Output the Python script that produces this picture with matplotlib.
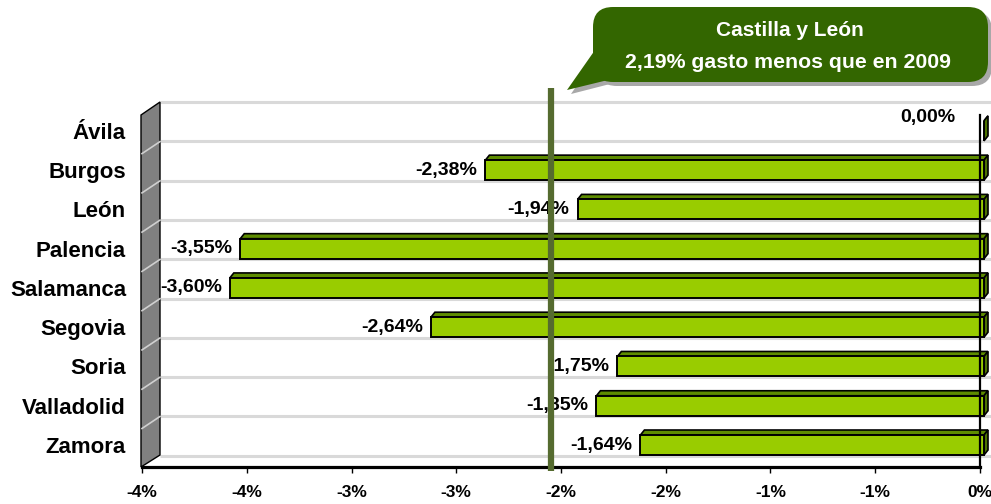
import matplotlib
matplotlib.use("Agg")
import matplotlib.pyplot as plt
from matplotlib.patches import Polygon, Rectangle, FancyBboxPatch

plt.rcParams['font.family'] = ['Liberation Sans', 'DejaVu Sans']

# ---------------- data ----------------
provinces = ["Ávila", "Burgos", "León", "Palencia", "Salamanca",
             "Segovia", "Soria", "Valladolid", "Zamora"]
changes = [0.00, -2.38, -1.94, -3.55, -3.60, -2.64, -1.75, -1.85, -1.64]
x_ticks = [-4.0, -3.5, -3.0, -2.5, -2.0, -1.5, -1.0, -0.5, 0.0]
x_tick_labels = ["-4%", "-4%", "-3%", "-3%", "-2%", "-2%", "-1%", "-1%", "0%"]
region_line = -2.05
callout_lines = ["Castilla y León", "2,19% gasto menos que en 2009"]

# ---------------- layout ----------------
W, H = 991, 504
fig = plt.figure(figsize=(W / 100, H / 100), dpi=100)
fig.patch.set_facecolor("white")
ax = fig.add_axes([142 / W, 1 - 467 / H, (980 - 142) / W, (467 - 103) / H])
ax.set_xlim(-4, 0)
ax.set_ylim(8.56, -0.71)
ax.set_facecolor("none")

SX = (980 - 142) / 4.0          # px per unit x
SY = (467 - 103) / (8.56 + 0.71)  # px per unit y
dxv = lambda p: p / SX
dyv = lambda p: p / SY
T = fig.dpi_scale_trans
pin = lambda x, y: (x / 100.0, (H - y) / 100.0)

for s in ["top", "right", "left"]:
    ax.spines[s].set_visible(False)
ax.spines["bottom"].set_linewidth(2.3)
ax.spines["bottom"].set_color("black")

# gridlines (back wall)
for k in range(-1, 9):
    y = k + 0.27
    ax.plot([-4 + dxv(18), dxv(11)], [y, y], color="#D9D9D9", lw=2.2,
            clip_on=False, zorder=0.5, solid_capstyle="butt")

# left wall
wall = Polygon([pin(141, 115), pin(160, 102), pin(160, 455), pin(141, 467)],
               closed=True, transform=T, fc="#808080", ec="black", lw=1.0,
               zorder=1)
fig.add_artist(wall)
for k in range(-1, 9):
    gpx = 131 + SY * (k + 0.27)
    if gpx < 110 or gpx > 450:
        continue
    fig.add_artist(plt.Line2D([160 / 100, 142 / 100],
                              [(H - gpx) / 100, (H - gpx - 12) / 100],
                              transform=T, color="#D0D0D0", lw=1.2, zorder=1.1))

# vertical axis line at 0
ax.plot([0, 0], [dyv(115 - 131), 8.56], color="black", lw=1.6,
        clip_on=False, zorder=4)

# bars (3D style)
off = dxv(4)
hh = dyv(20)
ddx, ddy = dxv(4), dyv(5)
for i, v in enumerate(changes):
    left, right = v + off, 0 + off
    top, bot = i - hh / 2, i + hh / 2
    ax.add_patch(Polygon([(left, top), (left + ddx, top - ddy),
                          (right + ddx, top - ddy), (right, top)],
                         fc="#5E8C00", ec="black", lw=1.2, clip_on=False, zorder=3))
    ax.add_patch(Polygon([(right, top), (right + ddx, top - ddy),
                          (right + ddx, bot - ddy), (right, bot)],
                         fc="#4D7300", ec="black", lw=1.2, clip_on=False, zorder=3))
    ax.add_patch(Rectangle((left, top), right - left, hh, fc="#99CC00",
                           ec="black", lw=1.4, clip_on=False, zorder=3.1))
    lab = f"{v:.2f}".replace(".", ",") + "%"
    if v == 0:
        ax.text(left - dxv(29), i - dyv(13), lab, ha="right", va="center",
                fontsize=14, fontweight="bold", zorder=5)
    else:
        ax.text(left - dxv(8), i, lab, ha="right", va="center",
                fontsize=14, fontweight="bold", zorder=5)

# Castilla y León reference line
ax.plot([region_line, region_line], [dyv(88 - 131), dyv(471 - 131)],
        color="#556B2F", lw=4.5, clip_on=False, zorder=6,
        solid_capstyle="butt")

# axes ticks
ax.set_xticks(x_ticks)
ax.set_xticklabels(x_tick_labels, fontsize=12.5, fontweight="bold")
ax.tick_params(axis="x", length=4, width=1, color="black", pad=9)
ax.set_yticks(range(len(provinces)))
ax.set_yticklabels(provinces, fontsize=16, fontweight="bold")
ax.tick_params(axis="y", length=0, pad=11.5)
for t in ax.get_yticklabels():
    t.set_y(t.get_position()[1])

# callout
shadow = FancyBboxPatch(pin(597, 86), (988 - 593) / 100, 75 / 100,
                        boxstyle="round,pad=0,rounding_size=0.2",
                        transform=T, fc="#A8A8A8", ec="none", zorder=7)
fig.add_artist(shadow)
fig.add_artist(Polygon([pin(598, 54), pin(571, 94), pin(610, 84)], closed=True,
                       transform=T, fc="#A8A8A8", ec="none", zorder=7))
box = FancyBboxPatch(pin(593, 82), (988 - 593) / 100, 75 / 100,
                     boxstyle="round,pad=0,rounding_size=0.2",
                     transform=T, fc="#336600", ec="none", zorder=8)
fig.add_artist(box)
fig.add_artist(Polygon([pin(595, 50), pin(567, 90), pin(608, 80)], closed=True,
                       transform=T, fc="#336600", ec="none", zorder=8))
fig.text(790 / 100, (H - 31) / 100, callout_lines[0], transform=T,
         ha="center", va="center", color="white", fontsize=15,
         fontweight="bold", zorder=9)
fig.text(788 / 100, (H - 62) / 100, callout_lines[1], transform=T,
         ha="center", va="center", color="white", fontsize=15.3,
         fontweight="bold", zorder=9)

fig.savefig("out.png", dpi=100)
